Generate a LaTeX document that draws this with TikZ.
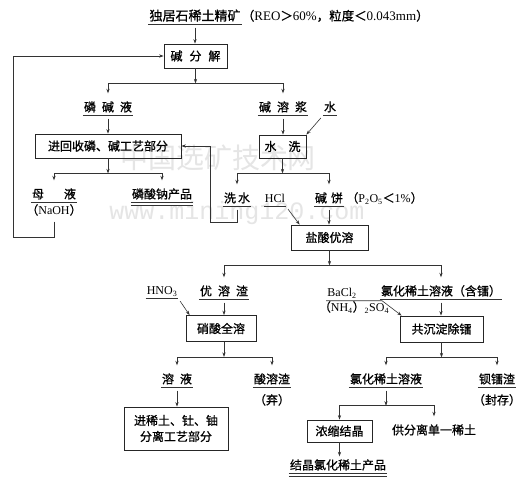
\documentclass[tikz,border=0pt]{standalone}
\usepackage{fontspec}
\setmainfont{Liberation Serif}
\newfontfamily\cjk{Noto Sans CJK SC}[FakeBold=0.8]
\newfontfamily\wmcjk{Noto Sans CJK SC}
\newfontfamily\wmmono{Liberation Mono}
\usetikzlibrary{arrows.meta,calc}
\begin{document}
\begin{tikzpicture}[x=1pt,y=-1pt,
  lbl/.style={inner xsep=1pt,inner ysep=1.5pt,text height=9.5pt,text depth=2.5pt,font=\cjk\fontsize{12}{14}\selectfont},
  box/.style={draw=black!85,line width=0.8pt,inner sep=0pt,font=\cjk\fontsize{12}{14}\selectfont,align=center},
  ln/.style={draw=black!80,line width=0.6pt},
  arr/.style={ln,-{Stealth[length=4.5pt,width=3.2pt]}},
  toL/.style={arr,shorten >=7pt},
  fromL/.style={shorten <=3pt},
  uline/.style={draw=black!80,line width=0.6pt},
  wmc/.style={text=black!10,font=\wmcjk\fontsize{28}{30}\selectfont},
  wml/.style={text=black!10,font=\wmmono\fontsize{25}{27}\selectfont}
]
\useasboundingbox (0,0) rectangle (528,484);
\fill[white] (0,0) rectangle (528,484);
% watermark
\node[wmc] (wm1) at (218,158) {中国选矿技术网};
\node[wml] (wm2) at (237,213) {www.mining120.com};

% title
\node[lbl,font=\cjk\fontsize{13}{15}\selectfont] (t1) at (195,17) {独居石稀土精矿};
\node[lbl,anchor=base west,inner xsep=0pt,font=\cjk\fontsize{12.5}{15}\selectfont] (t2) at (t1.base east) {（{\rmfamily\fontsize{13}{15}\selectfont REO}＞{\rmfamily\fontsize{13}{15}\selectfont 60\%}，粒度＜{\rmfamily\fontsize{13}{15}\selectfont 0.043mm}）};

% boxes
\node[box,minimum width=63pt,minimum height=24pt] (b1) at (195.5,56) {碱\hspace{7pt}分\hspace{7pt}解};
\node[box,minimum width=146pt,minimum height=24pt] (b2) at (108,146) {进回收磷、碱工艺部分};
\node[box,minimum width=47pt,minimum height=23pt] (b3) at (282.5,146.5) {水\hspace{12pt}洗};
\node[box,minimum width=77pt,minimum height=25pt] (b4) at (329.5,237.5) {盐酸优溶};
\node[box,minimum width=70pt,minimum height=26pt] (b5) at (221,328.5) {硝酸全溶};
\node[box,minimum width=83pt,minimum height=26pt] (b6) at (441.5,329) {共沉淀除镭};
\node[box,minimum width=104pt,minimum height=43pt] (b7) at (176,428.5) {进稀土、钍、铀\\[2pt]分离工艺部分};
\node[box,minimum width=65pt,minimum height=22pt] (b8) at (339.5,431) {浓缩结晶};

% labels
\node[lbl] (pl) at (108,108) {磷\hspace{6pt}碱\hspace{6pt}液};
\node[lbl] (rs) at (283,108) {碱\hspace{6pt}溶\hspace{6pt}浆};
\node[lbl] (sw) at (330,108) {水};
\node[lbl] (ml) at (54,195) {母\hspace{20pt}液};
\node[lbl] (naoh) at (54,211) {（{\rmfamily NaOH}）};
\node[lbl] (np) at (162,195) {磷酸钠产品};
\node[lbl] (xs) at (237,199) {洗\hspace{2pt}水};
\node[lbl] (hcl) at (275,199) {\rmfamily HCl};
\node[lbl] (jb) at (329,199) {碱\hspace{4pt}饼};
\node[lbl,anchor=base west,inner xsep=0pt] (jbp) at ([xshift=2pt]jb.base east) {（{\rmfamily P\textsubscript{2}O\textsubscript{5}}＜{\rmfamily 1\%}）};
\node[lbl] (yr) at (224,292) {优\hspace{6pt}溶\hspace{6pt}渣};
\node[lbl] (hno) at (162,291) {\rmfamily HNO\textsubscript{3}};
\node[lbl] (cl1) at (441,292) {氯化稀土溶液（含镭）};
\node[lbl] (bacl) at (342,293) {\rmfamily BaCl\textsubscript{2}};
\node[lbl] (nh) at (354,308) {（{\rmfamily NH\textsubscript{4}}）{\rmfamily \textsubscript{2}SO\textsubscript{4}}};
\node[lbl] (ry) at (177,380) {溶\hspace{6pt}液};
\node[lbl] (sz) at (272,380) {酸溶渣};
\node[lbl] (qi) at (272,401) {（弃）};
\node[lbl] (cl2) at (386,380) {氯化稀土溶液};
\node[lbl] (bl) at (497,380) {钡镭渣};
\node[lbl] (fc) at (497,401) {（封存）};
\node[lbl] (gf) at (434,431) {供分离单一稀土};
\node[lbl] (pr) at (338,466) {结晶氯化稀土产品};

% underlines
\foreach \n in {t1,pl,rs,sw,ml,xs,hcl,jb,yr,hno,cl1,ry,sz,cl2,bl}
  \draw[uline] (\n.south west) -- (\n.south east);
\foreach \n in {np,pr}{
  \draw[uline,line width=1.1pt] (\n.south west) -- (\n.south east);
  \draw[uline] ([yshift=-2.2pt]\n.south west) -- ([yshift=-2.2pt]\n.south east);
}

% connectors
\draw[arr,shorten <=3pt] (t1.south) -- (t1.south |- b1.north);
\draw[arr] (b1.south) -- ++(0,15) coordinate (j1);
\draw[toL] (j1) -| (pl.north);
\draw[toL] (j1) -| (rs.north);
\draw[arr,fromL] (pl.south) -- (b2.north);
\draw[arr,fromL] (rs.south) -- (rs.south |- b3.north);
\draw[arr,fromL] (sw.south west) -- (b3.north east);

\draw[arr] (b2.south) -- ++(0,15) coordinate (j2);
\draw[toL] (j2) -| (ml.north);
\draw[toL] (j2) -| (np.north);
\draw[arr] (b3.south) -- ++(0,15) coordinate (j3);
\draw[toL] (j3) -| (xs.north);
\draw[toL] (j3) -| (jb.north);

\coordinate (c1) at (210,222);
\draw[arr,fromL] (xs.south) |- (c1) |- (b2.east);
\coordinate (c2) at (13,237);
\draw[arr,fromL] (naoh.south) |- (c2) |- (b1.west);

\draw[arr,fromL] (hcl.south east) -- ([xshift=9pt]b4.north west);
\draw[arr,fromL] (jb.south) -- (jb.south |- b4.north);

\draw[arr] (b4.south) -- ++(0,15) coordinate (j4);
\draw[toL] (j4) -| (yr.north);
\draw[toL] (j4) -| (cl1.north);

\draw[arr,fromL] (hno.south east) -- ([xshift=4pt]b5.north west);
\draw[arr,fromL] (yr.south) -- (yr.south |- b5.north);
\coordinate (ba2) at (382,300);
\draw[arr] (bacl.south west) -- (bacl.south west -| ba2) -- ([xshift=2pt]b6.north west);
\draw[arr,fromL] (cl1.south) -- (cl1.south |- b6.north);

\draw[arr] (b5.south -| yr) -- ++(0,15) coordinate (j5);
\draw[toL] (j5) -| (ry.north);
\draw[toL] (j5) -| (sz.north);
\draw[arr] (b6.south) -- ++(0,15) coordinate (j6);
\draw[toL] (j6) -| (cl2.north);
\draw[toL] (j6) -| (bl.north);

\draw[arr,fromL] (ry.south) -- (ry.south |- b7.north);
\draw[arr,fromL] (cl2.south) -- ++(0,18) coordinate (j7);
\draw[arr] (j7) -| (b8.north);
\draw[toL] (j7) -| (gf.north);
\draw[arr,shorten >=2pt] (b8.south) -- (b8.south |- pr.north);
\end{tikzpicture}
\end{document}
